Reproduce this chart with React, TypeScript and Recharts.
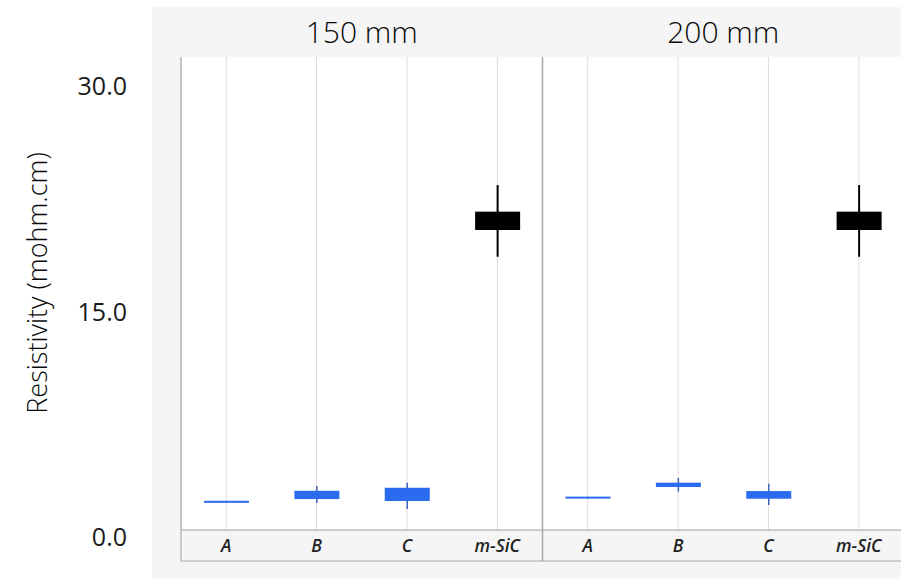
import { Bar, CartesianGrid, ComposedChart, XAxis, YAxis } from "recharts";

const sizes = ["150 mm", "200 mm"];
const categories = ["A", "B", "C", "m-SiC"];

// whisker ends and box edges (mohm.cm)
const whiskerLow150 = [1.82, 1.8, 1.4, 18.18];
const boxLow150 = [1.85, 2.06, 1.93, 19.96];
const boxHigh150 = [1.9, 2.61, 2.81, 21.18];
const whiskerHigh150 = [1.95, 2.93, 3.15, 22.95];

const whiskerLow200 = [2.1, 2.55, 1.66, 18.18];
const boxLow200 = [2.13, 2.86, 2.08, 19.96];
const boxHigh200 = [2.18, 3.15, 2.59, 21.18];
const whiskerHigh200 = [2.22, 3.46, 3.08, 22.95];

const yTicks = [0, 15, 30];

const lows = [whiskerLow150, whiskerLow200];
const q1s = [boxLow150, boxLow200];
const q3s = [boxHigh150, boxHigh200];
const highs = [whiskerHigh150, whiskerHigh200];

const rows = sizes.flatMap((size, si) =>
  categories.map((cat, ci) => ({
    key: size + "|" + cat,
    size,
    cat,
    whisker: [lows[si][ci], highs[si][ci]],
    box: [q1s[si][ci], q3s[si][ci]],
  }))
);

const FONT = "'Open Sans', sans-serif";
const BLUE = "#2b6bef";
const PLOT_TOP = 57;

function BoxShape(props: any) {
  const { x, y, width, height, payload } = props;
  let top = y;
  let h = height;
  if (h < 2) {
    top = y - (2 - h) / 2;
    h = 2;
  }
  const fill = payload.cat === "m-SiC" ? "#000" : BLUE;
  return <rect x={x} y={top} width={width} height={h} fill={fill} />;
}

function WhiskerShape(props: any) {
  const { x, y, width, height, payload } = props;
  const cx = x + width / 2;
  const black = payload.cat === "m-SiC";
  return (
    <line
      x1={cx} x2={cx} y1={y} y2={y + height}
      stroke={black ? "#000" : "#3f64b8"}
      strokeWidth={black ? 2 : 1.5}
    />
  );
}

function CatTick(props: any) {
  const { x, y, payload, index } = props;
  const half = payload.offset || 45;
  const label = rows[index] ? rows[index].cat : "";
  return (
    <g>
      <line x1={x - half} x2={x + half} y1={y + 31} y2={y + 31} stroke="#a8a8a8" />
      {index === 0 && <line x1={x - half} x2={x - half} y1={y} y2={y + 31} stroke="#a0a0a0" />}
      {index % categories.length === 0 && index > 0 && (
        <line x1={x - half} x2={x - half} y1={PLOT_TOP} y2={y + 31} stroke="#a8a8a8" strokeWidth={1.5} />
      )}
      <text x={x} y={y + 22} textAnchor="middle" fontFamily={FONT} fontSize={17.5}
        fontStyle="italic" fontWeight={600} fill="#222">
        {label}
      </text>
    </g>
  );
}

function PanelTick(props: any) {
  const { x, y, payload } = props;
  return (
    <text x={x} y={y - 14} textAnchor="middle" fontFamily={FONT} fontSize={30}
      fontWeight={300} fill="#0a0a0a">
      {payload.value}
    </text>
  );
}

function YTick(props: any) {
  const { x, y, payload } = props;
  return (
    <text x={x - 54} y={y + 16} textAnchor="end" fontFamily={FONT} fontSize={25} fill="#1a1a1a">
      {Number(payload.value).toFixed(1)}
    </text>
  );
}

function YLabel() {
  return (
    <text x={36} y={283} transform="rotate(-90, 36, 283)" textAnchor="middle"
      dominantBaseline="central" fontFamily={FONT} fontSize={27} fontWeight={300} fill="#0a0a0a">
      Resistivity (mohm.cm)
    </text>
  );
}

export default function App() {
  return (
    <div style={{ position: "absolute", left: 0, top: 0, width: 901, height: 579, overflow: "hidden", background: "#fff" }}>
      <div style={{ position: "absolute", left: 152, top: 7, width: 760, height: 580, background: "#f5f5f5" }} />
      <div style={{ position: "absolute", left: 0, top: 0 }}>
        <ComposedChart width={910} height={579} data={rows}
          margin={{ top: 7, right: 6, bottom: 18, left: 121 }} barGap={0}>
          <CartesianGrid xAxisId="cat" horizontal={false} stroke="#dcdcdc" fill="#fff" />
          <XAxis xAxisId="cat" dataKey="key" height={31} tickSize={0} tickMargin={0}
            axisLine={{ stroke: "#a0a0a0" }} tickLine={false} tick={<CatTick />} interval={0} />
          <XAxis xAxisId="w" dataKey="key" hide />
          <XAxis xAxisId="panel" dataKey="size" orientation="top" allowDuplicatedCategory={false}
            height={50} tickSize={0} tickMargin={0} axisLine={false} tickLine={false}
            tick={<PanelTick />} interval={0} />
          <YAxis domain={[0, 31.47]} ticks={yTicks} width={60} tickSize={0} tickMargin={0}
            axisLine={{ stroke: "#a0a0a0" }} tickLine={false} tick={<YTick />} interval={0}
            label={<YLabel />} />
          <Bar xAxisId="w" dataKey="whisker" barSize={45} shape={<WhiskerShape />} isAnimationActive={false} />
          <Bar xAxisId="cat" dataKey="box" barSize={45} shape={<BoxShape />} isAnimationActive={false} />
        </ComposedChart>
      </div>
    </div>
  );
}
